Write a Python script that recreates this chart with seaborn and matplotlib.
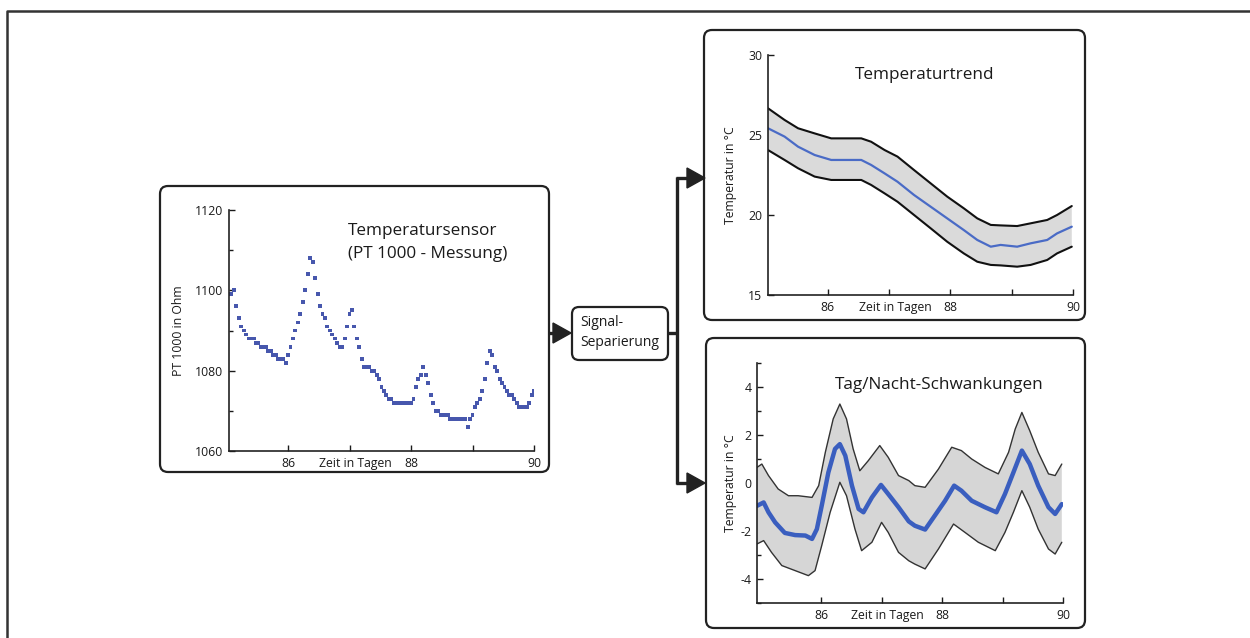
import numpy as np
import pandas as pd
import matplotlib
matplotlib.use("Agg")
import matplotlib.pyplot as plt
from matplotlib.patches import FancyBboxPatch, Polygon
import seaborn as sns

# ---------------- data ----------------
# Left panel: PT 1000 measurement (Ohm), sampled every 0.04 days from day 85.04
pt_start, pt_step = 85.04, 0.04
pt_ohm = [
    1099, 1099, 1100, 1096, 1093, 1091, 1090, 1089, 1088, 1088,
    1088, 1087, 1087, 1086, 1086, 1086, 1085, 1085, 1084, 1084,
    1083, 1083, 1083, 1082, 1084, 1086, 1088, 1090, 1092, 1094,
    1097, 1100, 1104, 1108, 1107, 1103, 1099, 1096, 1094, 1093,
    1091, 1090, 1089, 1088, 1087, 1086, 1086, 1088, 1091, 1094,
    1095, 1091, 1088, 1086, 1083, 1081, 1081, 1081, 1080, 1080,
    1079, 1078, 1076, 1075, 1074, 1073, 1073, 1072, 1072, 1072,
    1072, 1072, 1072, 1072, 1072, 1073, 1076, 1078, 1079, 1081,
    1079, 1077, 1074, 1072, 1070, 1070, 1069, 1069, 1069, 1069,
    1068, 1068, 1068, 1068, 1068, 1068, 1068, 1066, 1068, 1069,
    1071, 1072, 1073, 1075, 1078, 1082, 1085, 1084, 1081, 1080,
    1078, 1077, 1076, 1075, 1074, 1074, 1073, 1072, 1071, 1071,
    1071, 1071, 1072, 1074, 1075,
]

# Top-right panel: temperature trend with band
trend_days = [85.03, 85.30, 85.52, 85.79, 86.06, 86.33, 86.55, 86.71, 86.93, 87.14, 87.41,
              87.68, 87.95, 88.22, 88.44, 88.66, 88.82, 89.09, 89.31, 89.58, 89.74, 89.98]
trend_mid = [25.42, 24.90, 24.27, 23.75, 23.44, 23.44, 23.44, 23.13, 22.60, 22.08, 21.25,
             20.52, 19.79, 19.06, 18.44, 18.02, 18.13, 18.02, 18.23, 18.44, 18.85, 19.27]
trend_up = [26.67, 25.94, 25.42, 25.10, 24.79, 24.79, 24.79, 24.58, 24.06, 23.65, 22.81,
            21.98, 21.15, 20.42, 19.79, 19.38, 19.35, 19.31, 19.48, 19.69, 20.00, 20.56]
trend_lo = [24.06, 23.44, 22.92, 22.40, 22.19, 22.19, 22.19, 21.88, 21.35, 20.83, 20.00,
            19.17, 18.33, 17.60, 17.08, 16.88, 16.85, 16.77, 16.88, 17.19, 17.60, 18.02]

# Bottom-right panel: day/night fluctuations
dn_mid_days = [84.94, 85.05, 85.13, 85.24, 85.40, 85.57, 85.74, 85.85, 85.93, 86.01, 86.12,
               86.23, 86.31, 86.40, 86.51, 86.62, 86.70, 86.84, 86.99, 87.11, 87.28, 87.45,
               87.55, 87.72, 87.88, 88.05, 88.20, 88.32, 88.49, 88.71, 88.90, 89.04, 89.18,
               89.32, 89.45, 89.59, 89.76, 89.87, 89.98]
dn_mid = [-0.95, -0.81, -1.22, -1.64, -2.08, -2.17, -2.19, -2.33, -1.92, -0.95, 0.44,
          1.42, 1.62, 1.14, -0.11, -1.08, -1.22, -0.60, -0.08, -0.46, -1.01, -1.60,
          -1.78, -1.94, -1.36, -0.74, -0.11, -0.32, -0.74, -1.01, -1.22, -0.46, 0.44,
          1.35, 0.79, -0.11, -1.01, -1.29, -0.88]
dn_up_days = [84.94, 85.02, 85.13, 85.29, 85.46, 85.62, 85.85, 85.96, 86.07, 86.20, 86.31,
              86.42, 86.53, 86.64, 86.78, 86.97, 87.11, 87.28, 87.45, 87.55, 87.72, 87.94,
              88.16, 88.32, 88.49, 88.71, 88.93, 89.10, 89.21, 89.32, 89.45, 89.59, 89.76,
              89.87, 89.98]
dn_up = [0.65, 0.79, 0.31, -0.25, -0.53, -0.53, -0.60, -0.11, 1.28, 2.67, 3.29,
         2.67, 1.42, 0.51, 0.93, 1.56, 1.07, 0.31, 0.10, -0.11, -0.18, 0.58,
         1.49, 1.35, 1.00, 0.65, 0.38, 1.28, 2.25, 2.94, 2.18, 1.28, 0.38,
         0.31, 0.79]
dn_lo_days = [84.94, 85.05, 85.18, 85.35, 85.57, 85.79, 85.90, 86.01, 86.15, 86.31, 86.42,
              86.56, 86.67, 86.84, 87.00, 87.11, 87.28, 87.45, 87.55, 87.72, 87.94, 88.19,
              88.38, 88.60, 88.88, 89.04, 89.18, 89.32, 89.45, 89.59, 89.76, 89.87, 89.98]
dn_lo = [-2.54, -2.40, -2.89, -3.44, -3.65, -3.86, -3.65, -2.61, -1.22, 0.03, -0.53,
         -1.92, -2.82, -2.47, -1.64, -2.06, -2.89, -3.24, -3.38, -3.58, -2.75, -1.71,
         -2.06, -2.47, -2.82, -2.06, -1.22, -0.32, -1.01, -1.92, -2.75, -2.96, -2.47]

x_ticks = [86, 87, 88, 89, 90]
x_ticklabels = ["86", "", "88", "", "90"]

# ---------------- style ----------------
sns.set_theme(style="white")
plt.rcParams["font.family"] = ["Open Sans", "DejaVu Sans"]
plt.rcParams["axes.unicode_minus"] = False

W, H = 1250, 638
fig = plt.figure(figsize=(W / 100, H / 100), dpi=100)

# background layer in pixel coordinates
bg = fig.add_axes([0, 0, 1, 1])
bg.set_xlim(0, W)
bg.set_ylim(H, 0)
bg.axis("off")

EDGE = "#222222"
TXT = "#1a1a1a"
# outer frame
bg.plot([7, 7, W], [H, 11, 11], color="#333333", lw=1.8, solid_capstyle="butt")

def rbox(x0, y0, x1, y1, r=8, lw=1.6):
    p = FancyBboxPatch((x0, y0), x1 - x0, y1 - y0,
                       boxstyle=f"round,pad=0,rounding_size={r}",
                       facecolor="white", edgecolor=EDGE, lw=lw)
    bg.add_patch(p)

rbox(160, 186, 549, 472)
rbox(704, 30, 1085, 320)
rbox(706, 338, 1085, 628)
rbox(572, 307, 668, 360, r=7)

# arrows / connectors
LW = 2.4
bg.plot([549, 556], [333, 333], color=EDGE, lw=LW, solid_capstyle="butt")
bg.add_patch(Polygon([(553, 323), (553, 343), (571, 333)], closed=True, color=EDGE))
bg.plot([668, 678], [333, 333], color=EDGE, lw=LW, solid_capstyle="butt")
bg.plot([677, 677], [177, 484], color=EDGE, lw=LW, solid_capstyle="butt")
for yy in (178, 483):
    bg.plot([676, 690], [yy, yy], color=EDGE, lw=LW, solid_capstyle="butt")
    bg.add_patch(Polygon([(687, yy - 10), (687, yy + 10), (705, yy)], closed=True, color=EDGE))

bg.text(580, 323, "Signal-", fontsize=10, ha="left", va="center", color=TXT)
bg.text(580, 343, "Separierung", fontsize=10, ha="left", va="center", color=TXT)

# titles
TFS = 12.3
bg.text(348, 231, "Temperatursensor", fontsize=TFS, ha="left", va="center", color=TXT)
bg.text(348, 254, "(PT 1000 - Messung)", fontsize=TFS, ha="left", va="center", color=TXT)
bg.text(925, 75, "Temperaturtrend", fontsize=TFS, ha="center", va="center", color=TXT)
bg.text(939, 385, "Tag/Nacht-Schwankungen", fontsize=TFS, ha="center", va="center", color=TXT)


def px_axes(x0, y0, x1, y1):
    return fig.add_axes([x0 / W, 1 - y1 / H, (x1 - x0) / W, (y1 - y0) / H])


def style(ax, xlim, ylim, yticks, yminor, ylabel, ylab_x):
    ax.set_facecolor("none")
    ax.set_xlim(*xlim)
    ax.set_ylim(*ylim)
    for s in ("top", "right"):
        ax.spines[s].set_visible(False)
    for s in ("left", "bottom"):
        ax.spines[s].set_color("#222222")
        ax.spines[s].set_linewidth(1.2)
    ax.set_xticks(x_ticks)
    ax.set_xticklabels(x_ticklabels)
    ax.set_yticks(yticks)
    ax.set_yticklabels([str(v) for v in yticks])
    if yminor:
        ax.set_yticks(yminor, minor=True)
    ax.tick_params(which="both", direction="in", length=4, width=1, colors=TXT,
                   labelsize=8.8, pad=4, bottom=True, left=True)
    ax.tick_params(which="minor", length=3)
    ax.set_xlabel("")
    ax.set_ylabel(ylabel, fontsize=8.8, color=TXT)
    ax.yaxis.set_label_coords(ylab_x, 0.5)
    ax.annotate("Zeit in Tagen", xy=(87.1, 0), xycoords=("data", "axes fraction"),
                xytext=(0, -4), textcoords="offset points", ha="center", va="top",
                fontsize=8.8, color=TXT)
    ax.grid(False)


# ---- left panel: scatter ----
axL = px_axes(229, 210, 534, 451)
pt_days = np.round(pt_start + pt_step * np.arange(len(pt_ohm)), 2)
df_pt = pd.DataFrame({"Tag": pt_days, "Ohm": pt_ohm})
sns.scatterplot(data=df_pt, x="Tag", y="Ohm", ax=axL, marker="s", s=8,
                color="#4757ad", edgecolor="none", linewidth=0, legend=False)
style(axL, (85.04, 90), (1060, 1120), [1060, 1080, 1100, 1120], [1070, 1090, 1110],
      "PT 1000 in Ohm", -0.145)

# ---- top right: trend ----
axT = px_axes(768, 55, 1073, 295)
axT.fill(list(trend_days) + trend_days[::-1], list(trend_up) + trend_lo[::-1],
         facecolor="#dadada", edgecolor="none")
sns.lineplot(x=trend_days, y=trend_up, ax=axT, color="#111111", lw=1.5, sort=False, estimator=None)
sns.lineplot(x=trend_days, y=trend_lo, ax=axT, color="#111111", lw=1.5, sort=False, estimator=None)
sns.lineplot(x=trend_days, y=trend_mid, ax=axT, color="#4a6bc6", lw=1.6, sort=False, estimator=None)
style(axT, (85.03, 90), (15, 30), [15, 20, 25, 30], None, "Temperatur in °C", -0.10)

# ---- bottom right: day/night ----
axB = px_axes(757, 363, 1063, 603)
axB.fill(list(dn_up_days) + dn_lo_days[::-1], list(dn_up) + dn_lo[::-1],
         facecolor="#d6d6d6", edgecolor="none")
sns.lineplot(x=dn_up_days, y=dn_up, ax=axB, color="#333333", lw=1.0, sort=False, estimator=None)
sns.lineplot(x=dn_lo_days, y=dn_lo, ax=axB, color="#333333", lw=1.0, sort=False, estimator=None)
sns.lineplot(x=dn_mid_days, y=dn_mid, ax=axB, color="#3a5ebf", lw=3.2, sort=False, estimator=None)
style(axB, (84.94, 90), (-5, 5), [-4, -2, 0, 2, 4], [-5, -3, -1, 1, 3, 5],
      "Temperatur in °C", -0.065)

fig.savefig("out.png", dpi=100)
